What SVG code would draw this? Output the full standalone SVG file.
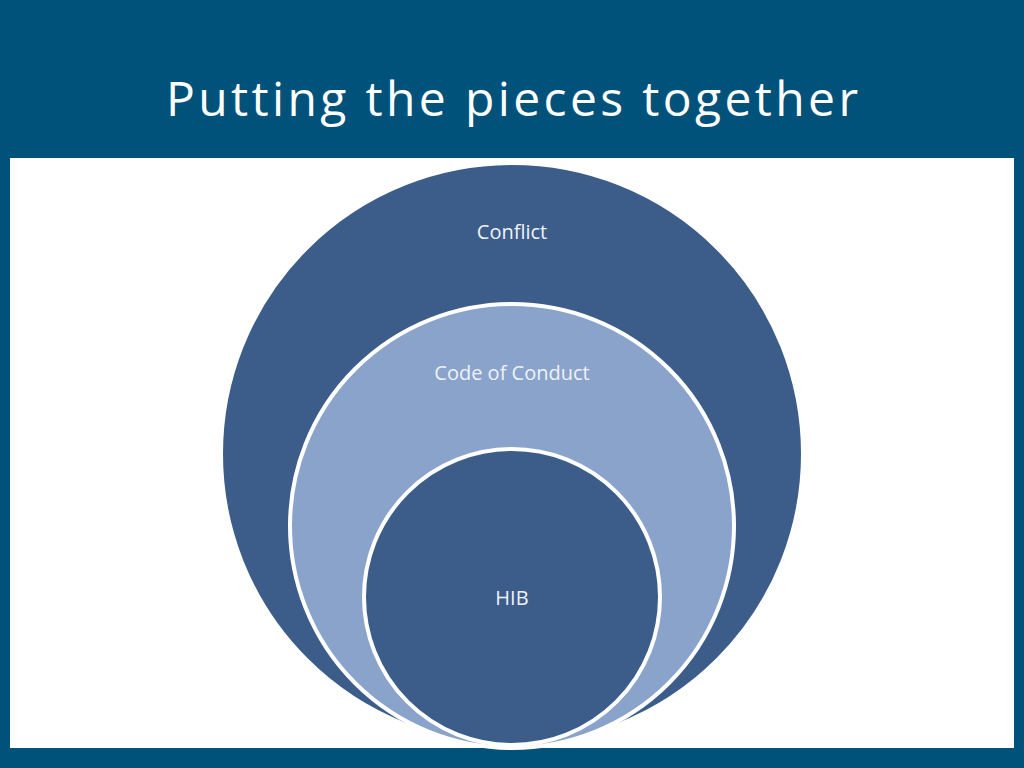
<svg xmlns="http://www.w3.org/2000/svg" width="1024" height="768" viewBox="0 0 1024 768">
<style>
.lbl{font-family:"Open Sans","Liberation Sans",sans-serif;font-size:20px;fill:#eef2f7;text-anchor:middle}
.c{stroke:#ffffff;stroke-width:4}
</style>
<rect width="1024" height="768" fill="#00527b"/>
<rect x="10" y="158" width="1004" height="590" fill="#ffffff"/>
<text x="512" y="116" font-family="Open Sans,Liberation Sans,sans-serif" font-size="48" fill="#ffffff" text-anchor="middle" textLength="692">Putting the pieces together</text>
<g id="conflict"><circle class="c" cx="512" cy="454" r="291" fill="#3c5d8a"/><text class="lbl" x="512" y="239">Conflict</text></g>
<g id="code"><circle class="c" cx="512" cy="526" r="222" fill="#8aa3cb"/><text class="lbl" x="512" y="380">Code of Conduct</text></g>
<g id="hib"><circle class="c" cx="512" cy="597" r="148" fill="#3c5d8a"/><text class="lbl" x="512" y="605">HIB</text></g>
<g id="connectors"/>
</svg>
